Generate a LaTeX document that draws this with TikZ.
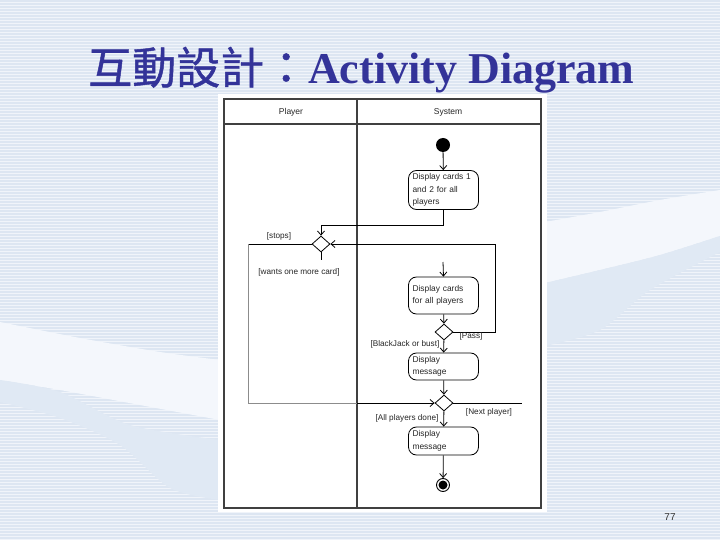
\documentclass[tikz,border=0pt]{standalone}
\usepackage{fontspec}
\setmainfont{Liberation Serif}
\newfontfamily\cjk[FakeBold=1]{Noto Sans CJK TC}
\newfontfamily\arial{Liberation Sans}
\usetikzlibrary{arrows.meta,shapes.geometric,calc}
\definecolor{bgbase}{HTML}{F0F4FA}
\definecolor{bgstripe}{HTML}{DDE6F2}
\definecolor{swlight}{HTML}{F4F7FC}
\definecolor{swdark}{HTML}{E0E9F4}
\definecolor{titleblue}{RGB}{51,51,153}
\definecolor{framegray}{HTML}{404040}
\tikzset{
  actbox/.style={draw=black, fill=white, rounded corners=8pt, line width=0.8pt,
    text width=62pt, inner xsep=4pt, inner ysep=2pt, align=left,
    font=\arial\fontsize{8.4}{12.5}\selectfont, text=black!85},
  dec/.style={draw=black, fill=white, diamond, minimum width=18pt, minimum height=16pt,
    inner sep=0pt, line width=0.8pt},
  flow/.style={line width=0.8pt, draw=black},
  arr/.style={flow, -{Straight Barb[length=4pt,width=7pt]}},
  faint/.style={line width=0.8pt, draw=black!45},
  lbl/.style={font=\arial\fontsize{8.2}{10}\selectfont, text=black!85, inner sep=0pt},
  hdr/.style={font=\arial\fontsize{8.5}{10}\selectfont, text=black!85},
  lane/.style={draw=framegray, line width=1.2pt}
}
\begin{document}
\begin{tikzpicture}[x=1pt,y=-1pt]
\useasboundingbox (0,0) rectangle (720,540);
% background
\fill[bgbase] (0,0) rectangle (720,540);
\foreach \yy in {1,4,...,540} \draw[bgstripe, line width=1.5pt] (0,\yy) -- (720,\yy);
\fill[swlight] plot[smooth] coordinates {(0,322) (80,338) (160,352) (220,360)} -- (220,420)
  -- plot[smooth] coordinates {(220,420) (140,405) (60,390) (0,380)} -- cycle;
\fill[swdark] plot[smooth] coordinates {(0,380) (60,392) (130,425) (220,440)} -- (220,500)
  -- plot[smooth] coordinates {(220,500) (170,488) (120,445) (60,418) (0,402)} -- cycle;
\fill[swlight] plot[smooth] coordinates {(545,222) (600,212) (660,200) (720,190)} -- (720,236)
  -- plot[smooth] coordinates {(720,236) (660,255) (600,270) (545,283)} -- cycle;
\fill[swdark] plot[smooth] coordinates {(545,283) (600,270) (660,255) (720,236)} -- (720,252)
  -- plot[smooth] coordinates {(720,252) (650,290) (600,330) (545,346)} -- cycle;
% title
\node[anchor=base west, inner sep=0pt, text=titleblue, font=\fontsize{44}{44}\selectfont] (title) at (88,84)
  {{\cjk 互動設計：}\textbf{Activity Diagram}};
% page number
\node[font=\arial\fontsize{10}{10}\selectfont, text=black!80] (pgno) at (670,517) {77};
% white panel
\fill[white] (218,94) rectangle (547,512);
% swimlanes
\draw[lane] (224,99) rectangle (541,508);
\draw[lane] (224,124) -- (541,124);
\draw[lane] (357,99) -- (357,508);
\node[hdr] (hplayer) at (291,112) {Player};
\node[hdr] (hsystem) at (448,112) {System};
% nodes
\node[circle, fill=black, minimum size=14pt, inner sep=0pt] (init) at (443,145) {};
\node[actbox, minimum height=39pt] (b1) at (443.5,190) {Display cards 1\\and 2 for all\\players};
\node[dec] (d1) at (321,244) {};
\node[actbox, minimum height=37pt] (b2) at (443.5,295.5) {Display cards\\for all players};
\node[dec] (d2) at (444,332) {};
\node[actbox, minimum height=27pt] (b3) at (443.5,366.5) {Display\\message};
\node[dec] (d3) at (444,403) {};
\node[actbox, minimum height=28pt] (b4) at (443.5,441) {Display\\message};
\node[circle, draw=black, line width=0.9pt, fill=white, minimum size=13pt, inner sep=0pt] (fin) at (443,485) {};
\fill[black] (fin.center) circle (4.5pt);
% coordinates
\coordinate (cL1) at (248,244);
\coordinate (cL2) at (248,403);
\coordinate (cM) at (357,403);
\coordinate (cR) at (495,244);
\coordinate (c2) at (443,262);
\coordinate (cN) at (522,403);
% connectors
\draw[arr] (init) -- (b1);
\draw[arr] (b1.south) -- ++(0,16) -| (d1.north);
\draw[flow] (d1.west) -- (cL1);
\draw[faint] (cL1) -- (cL2) -- (cM);
\draw[arr] (cM) -- (d3.west);
\draw[flow] (d1.south) -- ++(0,8);
\draw[arr] (c2) -- (b2.north);
\draw[arr] (d2.east) -| (cR) -- (d1.east);
\draw[arr] (b2) -- (d2);
\draw[arr] (d2) -- (b3);
\draw[arr] (b3) -- (d3);
\draw[flow] (d3.east) -- (cN);
\draw[arr] (d3) -- (b4);
\draw[arr] (b4) -- (fin);
% labels
\node[lbl] (lstops) at (279,236) {[stops]};
\node[lbl] (lwants) at (299,272) {[wants one more card]};
\node[lbl] (lpass) at (471,336) {[Pass]};
\node[lbl] (lbj) at (405,344) {[BlackJack or bust]};
\node[lbl] (lnext) at (489,412) {[Next player]};
\node[lbl] (ldone) at (407,418) {[All players done]};
\end{tikzpicture}
\end{document}
